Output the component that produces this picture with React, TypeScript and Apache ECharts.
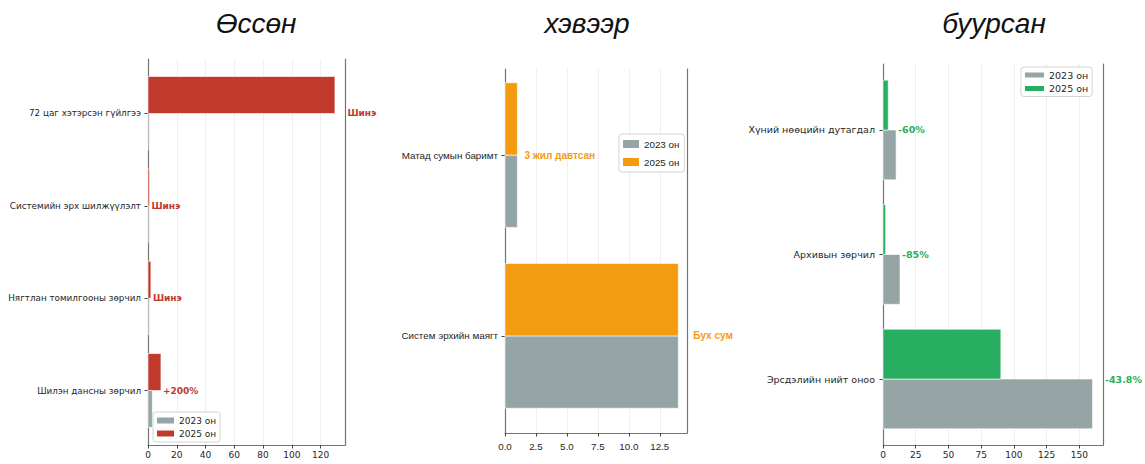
import React, { useEffect, useRef } from 'react';
import * as echarts from 'echarts';

// ---------- data ----------
const seriesNames = ['2023 он', '2025 он'];
const panelTitles = ['Өссөн', 'хэвээр', 'буурсан'];

const upCategories = ['72 цаг хэтэрсэн гүйлгээ', 'Системийн эрх шилжүүлэлт', 'Нягтлан томилгооны зөрчил', 'Шилэн дансны зөрчил'];
const up2023 = [0, 0, 0, 3];
const up2025 = [130, 1, 2, 9];
const upNotes = ['Шинэ', 'Шинэ', 'Шинэ', '+200%'];
const upTicks = [0, 20, 40, 60, 80, 100, 120];

const sameCategories = ['Матад сумын баримт', 'Систем эрхийн маягт'];
const same2023 = [1, 14];
const same2025 = [1, 14];
const sameNotes = ['3 жил давтсан', 'Бух сум'];
const sameTicks = [0, 2.5, 5, 7.5, 10, 12.5];

const downCategories = ['Хүний нөөцийн дутагдал', 'Архивын зөрчил', 'Эрсдэлийн нийт оноо'];
const down2023 = [10, 13, 160];
const down2025 = [4, 2, 90];
const downNotes = ['-60%', '-85%', '-43.8%'];
const downTicks = [0, 25, 50, 75, 100, 125, 150];

// ---------- styles / layout ----------
const GRAY = '#95a5a6';
const BAR_H = 0.4;
const SPINE = '#737373';
const TEXT = '#262626';
const DEJAVU = '"DejaVu Sans", sans-serif';
const NARROW = '"Liberation Sans", Arial, sans-serif';

const panels = [
  {
    cats: upCategories, v23: up2023, v25: up2025, notes: upNotes, ticks: upTicks,
    color: '#c0392b', grid: { left: 148, top: 59, width: 197, height: 386 },
    yMin: -0.59, yMax: 3.59, xMax: 137, font: DEJAVU, catSize: 8.8, tickSize: 9, noteSize: 9,
    gapSmall: 2, gapBig: 12.5, labelMargin: 7, tickMargin: 5, fmt: (v: number) => String(v),
    legend: { left: 153, top: 412, itemWidth: 17, itemHeight: 6, itemGap: 4, fontSize: 9, padding: [4, 4, 4, 4] },
    titleX: 256,
  },
  {
    cats: sameCategories, v23: same2023, v25: same2025, notes: sameNotes, ticks: sameTicks,
    color: '#f39c12', grid: { left: 505, top: 69, width: 182, height: 364 },
    yMin: -0.476, yMax: 1.537, xMax: 14.7, font: NARROW, catSize: 9.8, tickSize: 9.8, noteSize: 10,
    gapSmall: 7, gapBig: 15, labelMargin: 7, tickMargin: 8, fmt: (v: number) => v.toFixed(1),
    legend: { left: 619, top: 134, itemWidth: 16, itemHeight: 8, itemGap: 8, fontSize: 9.8, padding: [5, 5, 5, 4] },
    titleX: 587,
  },
  {
    cats: downCategories, v23: down2023, v25: down2025, notes: downNotes, ticks: downTicks,
    color: '#27ae60', grid: { left: 883, top: 64, width: 220, height: 381 },
    yMin: -0.53, yMax: 2.53, xMax: 168, font: DEJAVU, catSize: 9.5, tickSize: 9, noteSize: 9.5,
    gapSmall: 2, gapBig: 12.5, labelMargin: 8, tickMargin: 5, fmt: (v: number) => String(v),
    legend: { left: 1021, top: 67, itemWidth: 19, itemHeight: 5, itemGap: 3.5, fontSize: 9.5, padding: [3, 4, 3, 4] },
    titleX: 994,
  },
];

function barRender(dir: number, color: string) {
  return (params: any, api: any) => {
    const v = api.value(0);
    const c = api.value(1);
    const a = api.coord([0, c]);
    const b = api.coord([v, c + dir * BAR_H]);
    return {
      type: 'rect',
      shape: {
        x: Math.min(a[0], b[0]),
        y: Math.min(a[1], b[1]),
        width: Math.abs(b[0] - a[0]),
        height: Math.abs(b[1] - a[1]),
      },
      style: { fill: color, stroke: '#ffffff', lineWidth: 0.6 },
    };
  };
}

function buildOption() {
  const grid: any[] = [];
  const xAxis: any[] = [];
  const yAxis: any[] = [];
  const series: any[] = [];
  const legend: any[] = [];
  const graphic: any[] = [];

  panels.forEach((p, pi) => {
    grid.push({ ...p.grid, containLabel: false });
    const step = p.ticks[1] - p.ticks[0];
    xAxis.push({
      type: 'value', gridIndex: pi, min: 0, max: p.xMax, interval: step,
      axisLine: { show: true, onZero: false, lineStyle: { color: SPINE, width: 1.2 } },
      axisTick: { show: true, length: 3.5, lineStyle: { color: '#444' } },
      axisLabel: {
        color: TEXT, fontFamily: p.font, fontSize: p.tickSize, margin: p.tickMargin,
        showMaxLabel: false, formatter: (v: number) => p.fmt(v),
      },
      splitLine: { show: true, lineStyle: { color: '#ebebeb', width: 0.8 } },
    });
    const idxs = p.cats.map((_, i) => i);
    yAxis.push({
      type: 'value', gridIndex: pi, inverse: true, min: p.yMin, max: p.yMax, position: 'left',
      axisLine: { show: true, onZero: false, lineStyle: { color: SPINE, width: 1.2 } },
      axisTick: { show: true, length: 3.5, customValues: idxs, lineStyle: { color: '#444' } },
      axisLabel: {
        customValues: idxs, color: TEXT, fontFamily: p.font, fontSize: p.catSize, margin: p.labelMargin,
        formatter: (v: number) => p.cats[Math.round(v)] ?? '',
      },
      splitLine: { show: false },
    });
    yAxis.push({
      type: 'value', gridIndex: pi, position: 'right', min: 0, max: 1,
      axisLine: { show: true, onZero: false, lineStyle: { color: SPINE, width: 1.2 } },
      axisTick: { show: false }, axisLabel: { show: false }, splitLine: { show: false },
    });
    const yMain = pi * 2;
    series.push({
      type: 'custom', name: seriesNames[0], xAxisIndex: pi, yAxisIndex: yMain,
      itemStyle: { color: GRAY },
      encode: { x: 0, y: 1 },
      data: p.v23.map((v, i) => [v, i]),
      renderItem: barRender(1, GRAY),
    });
    series.push({
      type: 'custom', name: seriesNames[1], xAxisIndex: pi, yAxisIndex: yMain,
      itemStyle: { color: p.color },
      encode: { x: 0, y: 1 },
      data: p.v25.map((v, i) => [v, i]),
      renderItem: barRender(-1, p.color),
    });
    const ends = p.cats.map((_, i) => Math.max(p.v23[i], p.v25[i]));
    const biggest = Math.max(...ends);
    series.push({
      type: 'custom', name: 'тайлбар' + pi, xAxisIndex: pi, yAxisIndex: yMain,
      encode: { x: 0, y: 1 }, clip: false, silent: true,
      data: ends.map((v, i) => [v, i]),
      renderItem: (params: any, api: any) => {
        const v = api.value(0);
        const i = api.value(1);
        const pt = api.coord([v, i]);
        const gap = v === biggest ? p.gapBig : p.gapSmall;
        return {
          type: 'text',
          x: pt[0] + gap,
          y: pt[1],
          style: {
            text: p.notes[i], fill: p.color, fontFamily: p.font, fontSize: p.noteSize, fontWeight: 'bold',
            align: 'left', verticalAlign: 'middle', textAlign: 'left', textVerticalAlign: 'middle',
          },
        };
      },
    });
    legend.push({
      orient: 'vertical', left: p.legend.left, top: p.legend.top, icon: 'rect',
      itemWidth: p.legend.itemWidth, itemHeight: p.legend.itemHeight, itemGap: p.legend.itemGap,
      selectedMode: false, padding: p.legend.padding,
      backgroundColor: '#ffffff', borderColor: '#d4d4d4', borderWidth: 1, borderRadius: 3,
      textStyle: { fontFamily: p.font, fontSize: p.legend.fontSize, color: TEXT },
      data: [
        { name: seriesNames[0], itemStyle: { color: GRAY } },
        { name: seriesNames[1], itemStyle: { color: p.color } },
      ],
    });
    graphic.push({
      type: 'text', x: p.titleX, y: 23,
      style: {
        text: panelTitles[pi], fill: '#111111', fontFamily: '"Liberation Sans", Arial, sans-serif',
        fontSize: 28, fontStyle: 'italic', align: 'center', verticalAlign: 'middle',
        textAlign: 'center', textVerticalAlign: 'middle',
      },
    });
  });

  return {
    animation: false,
    backgroundColor: '#ffffff',
    grid, xAxis, yAxis, series, legend, graphic,
  };
}

export default function App() {
  const ref = useRef<HTMLDivElement>(null);
  useEffect(() => {
    document.body.style.margin = '0';
    if (!ref.current) return;
    const chart = echarts.init(ref.current, undefined, { renderer: 'svg' });
    chart.setOption(buildOption() as any);
    return () => chart.dispose();
  }, []);
  return <div ref={ref} style={{ width: 1145, height: 464 }} />;
}
